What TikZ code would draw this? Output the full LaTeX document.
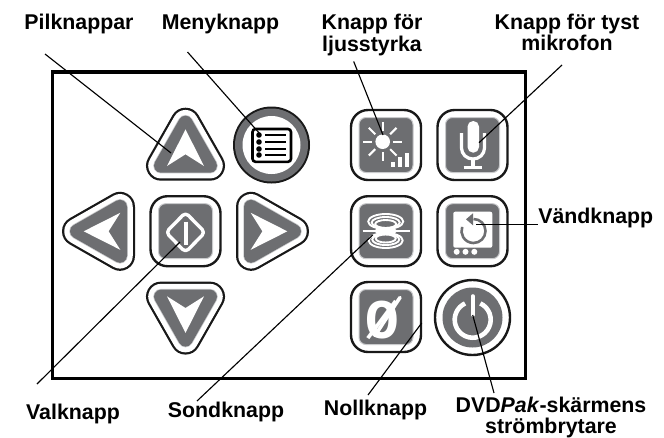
\documentclass[tikz,border=0pt]{standalone}
\usepackage{fontspec}
\usetikzlibrary{calc}
\setmainfont{Liberation Sans}
\setmonofont{Liberation Mono}
\newcommand{\PX}[1]{#1*0.75pt}
\definecolor{btn}{HTML}{6D6E71}
\definecolor{halo}{HTML}{C9CACC}
\tikzset{
  lab/.style={font=\fontsize{16}{15.8}\selectfont\bfseries,align=center,inner sep=0pt,text=black},
  leader/.style={draw=black,line width=0.85pt},
  frameline/.style={draw=black,line width=2.6pt,line join=miter},
  icon/.style={draw=white,line width=\PX{3.2},line cap=round,line join=round},
  thin icon/.style={draw=white,line width=\PX{2},line cap=round},
}
% rounded-square button, centred at #1
\newcommand{\squarebtn}[1]{%
  \begin{scope}[shift={#1}]
    \draw[fill=white,draw=black!90,line width=\PX{2.4},rounded corners=\PX{17}] (-35,-35) rectangle (35,35);
    \fill[btn,draw=halo,line width=\PX{1},rounded corners=\PX{7}] (-27,-27.5) rectangle (27,27.5);
  \end{scope}}
% rounded triangle button: centre #1, rotation #2
\newcommand{\tribtn}[2]{%
  \begin{scope}[shift={#1},rotate=#2]
    \path[draw=black!90,fill=black!90,line join=round,line width=\PX{30}] (0,-28.7)--(-24.5,14.3)--(24.5,14.3)--cycle;
    \path[draw=white,fill=white,line join=round,line width=\PX{25.5}] (0,-28.7)--(-24.5,14.3)--(24.5,14.3)--cycle;
    \path[draw=halo,fill=halo,line join=round,line width=\PX{15.5}] (0,-28.7)--(-24.5,14.3)--(24.5,14.3)--cycle;
    \path[draw=btn,fill=btn,line join=round,line width=\PX{14}] (0,-28.7)--(-24.5,14.3)--(24.5,14.3)--cycle;
    \fill[white] (0,-22)--(-18.5,14.6)--(0,2.9)--(18.5,14.6)--cycle;
  \end{scope}}
\begin{document}
\begin{tikzpicture}[x=0.75pt,y=-0.75pt]
\useasboundingbox (0,0) rectangle (664,437);
% frame
\draw[frameline] (52.5,72) rectangle (525.5,378.5);
% arrow keys
\tribtn{(185.5,151.4)}{0}
\tribtn{(105.7,231.3)}{90}
\tribtn{(265.3,231.3)}{-90}
\tribtn{(185.5,310.9)}{180}
% select key
\squarebtn{(185.5,231.2)}
\draw[icon,line width=\PX{3.4},rounded corners=\PX{4}] (185.5,212.5)--(205,232.4)--(185.5,252.3)--(166,232.4)--cycle;
\draw[icon,line width=\PX{4},line cap=butt] (185.5,221.5)--(185.5,244.5);
% menu key
\fill[black!90] (271.5,145) circle[radius=38.5];
\fill[btn] (271.5,145) circle[radius=36.5];
\fill[white] (271.5,145) circle[radius=29];
\draw[black,line width=\PX{2.6},rounded corners=\PX{3},fill=white] (252.5,129) rectangle (291,161.8);
\foreach \yy in {135,142,149,155}{
  \fill[black] (259,\yy) circle[radius=2.8];
  \draw[black,line width=\PX{2.4}] (265,\yy)--(286,\yy);
}
% brightness key
\squarebtn{(386,145)}
\fill[white] (382.7,141.7) circle[radius=7.3];
\foreach \aa in {0,45,...,315}{
  \draw[thin icon,line cap=butt] ($(382.7,141.7)+(\aa:10.5)$)--($(382.7,141.7)+(\aa:19.6)$);
}
\fill[white] (391,161.7) rectangle (395,167.3);
\fill[white] (398,156.7) rectangle (402,167.3);
\fill[white] (405,152.7) rectangle (409,167.3);
% mic key
\squarebtn{(472.5,145)}
\fill[white,rounded corners=\PX{5.6}] (467.5,121) rectangle (479,152.7);
\draw[icon,line cap=butt] (461.5,133) -- (461.5,148) arc[start angle=180,end angle=360,x radius=11.5,y radius=-11] -- (484.5,133);
\draw[icon,line cap=butt] (473,159)--(473,167.5);
\draw[icon,line cap=butt] (463.5,167.8)--(481.7,167.8);
% probe key
\squarebtn{(386,231.2)}
\foreach \rx/\ry/\cy in {17.5/7.5/221.5,14/5.5/222.5,10.5/4/224,17/7.5/240.5,13.5/5.5/239.5,10/4/238.5}{
  \draw[white,line width=\PX{1.9}] (385.7,\cy) ellipse[x radius=\rx,y radius=\ry];
}
\fill[white] (385.7,231) ellipse[x radius=11,y radius=4];
\draw[thin icon,line cap=butt] (362.5,231)--(410,231);
% flip key
\squarebtn{(472.5,231.2)}
\fill[white,rounded corners=\PX{2}] (453.3,211.7) rectangle (492.3,247.7);
\draw[btn,line width=\PX{2.6}] (473.5,219) arc[start angle=90,end angle=-200,x radius=12,y radius=-12];
\fill[btn] (466,219.3)--(473,213.3)--(473,225.3)--cycle;
\foreach \xx in {456.7,465.5,474.3}{\fill[white] (\xx,251.8) circle[radius=3];}
% zero key
\squarebtn{(386,317)}
\draw[white,line width=\PX{3.6},line cap=round] (375,335.5)--(400,297.5);
\node[inner sep=0pt,text=white,font=\fontsize{42}{42}\selectfont\ttfamily\bfseries] (zero) at (382.5,320) {Ø};
% power key
\draw[fill=white,draw=black!90,line width=\PX{2.4}] (472.5,317.5) circle[radius=37.5];
\fill[btn] (472.5,317.5) circle[radius=30];
\draw[white,line width=\PX{4.6}] (480.3,303.4) arc[start angle=65,end angle=-245,x radius=18,y radius=-18];
\draw[white,line width=\PX{3.6},line cap=round] (472.7,296)--(472.7,315);
% labels
\node[lab] (pil)  at (79,24) {Pilknappar};
\node[lab] (meny) at (220.5,23.5) {Menyknapp};
\node[lab] (ljus) at (372,35) {Knapp för\\ljusstyrka};
\node[lab] (tyst) at (567,32) {Knapp för tyst\\mikrofon};
\node[lab,anchor=west] (vand) at (538,218) {Vändknapp};
\node[lab] (val)  at (73,413.5) {Valknapp};
\node[lab] (sond) at (226,411.5) {Sondknapp};
\node[lab] (noll) at (375.5,409.5) {Nollknapp};
\node[lab] (dvd) at (551,417.5) {DVD\textit{Pak}-skärmens\\strömbrytare};
% leaders
\coordinate (pilA) at (45,54);   \coordinate (pilB) at (171,153);
\coordinate (menA) at (187.5,52);\coordinate (menB) at (260,134);
\coordinate (ljuA) at (353.7,61.5);\coordinate (ljuB) at (383,135);
\coordinate (tysA) at (562,65);  \coordinate (tysB) at (479,142.7);
\coordinate (vanA) at (537.5,224.5);\coordinate (vanB) at (476,224.5);
\coordinate (valA) at (37,384);  \coordinate (valB) at (180,242);
\coordinate (sonA) at (197,401); \coordinate (sonB) at (372.7,235);
\coordinate (nolA) at (368,395); \coordinate (nolB) at (421.7,323);
\coordinate (dvdA) at (494,393); \coordinate (dvdB) at (472.7,315);
\foreach \a/\b in {pilA/pilB,menA/menB,ljuA/ljuB,tysA/tysB,vanA/vanB,valA/valB,sonA/sonB,nolA/nolB,dvdA/dvdB}{
  \draw[leader] (\a)--(\b);
}
\end{tikzpicture}
\end{document}
